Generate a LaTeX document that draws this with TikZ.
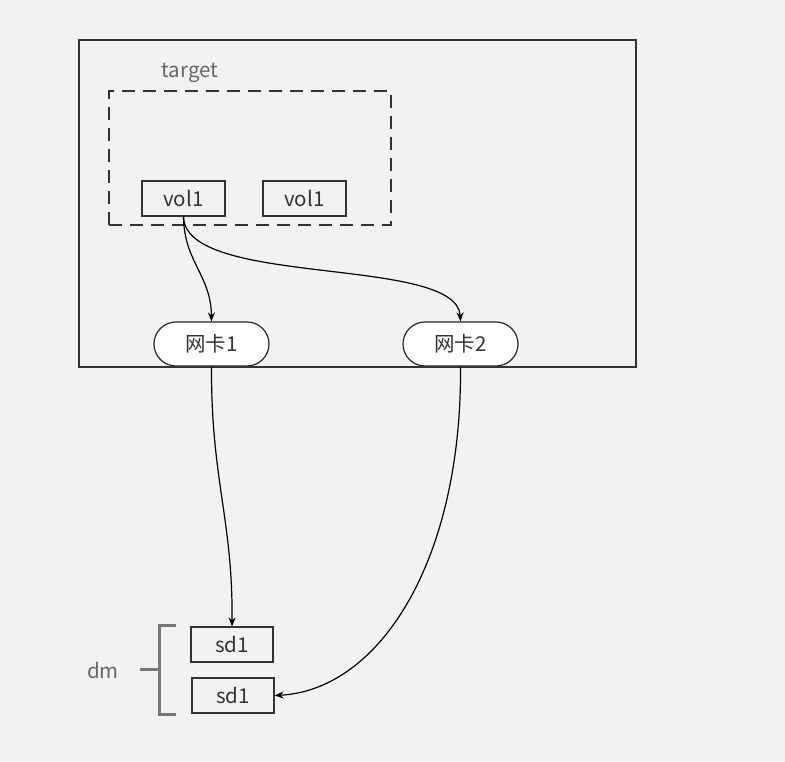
\documentclass[tikz,border=0pt]{standalone}
\usepackage{fontspec}
\setmainfont{Noto Sans CJK SC}
\usetikzlibrary{arrows.meta}
\definecolor{bg}{HTML}{F2F2F4}
\definecolor{ink}{HTML}{333333}
\definecolor{soft}{HTML}{666666}
\definecolor{brk}{HTML}{777777}
\tikzset{
  box/.style={draw=ink, line width=1.2pt, minimum width=83pt, minimum height=35pt, inner sep=0pt, text=ink, font=\fontsize{20.5}{24}\selectfont},
  pill/.style={draw=black!85, fill=white, line width=1.2pt, rounded corners=22pt, minimum width=115pt, minimum height=44pt, inner sep=0pt, text=ink, font=\fontsize{20.5}{24}\selectfont},
  lbl/.style={text=soft, font=\fontsize{20.5}{24}\selectfont, inner sep=0pt},
  conn/.style={draw=black, line width=1.2pt, -{Stealth[length=9pt,width=7pt]}},
}
\begin{document}
\begin{tikzpicture}[x=1pt,y=-1pt]
\fill[bg] (0,0) rectangle (785,761);
\useasboundingbox (0,0) rectangle (785,761);
% outer frame
\node[draw=ink, line width=1.3pt, minimum width=557pt, minimum height=327pt, inner sep=0pt] (frame) at (357.5,203.5) {};
\node[lbl] (tlabel) at (190,73) {target};
\node[draw=ink, line width=1.2pt, dash pattern=on 13pt off 8pt, minimum width=282pt, minimum height=134pt, inner sep=0pt] (target) at (250,158) {};
\node[box] (vola) at (183.5,198.5) {vol1};
\node[box] (volb) at (304.5,198.5) {vol1};
\node[pill] (nic1) at (211.5,344) {网卡1};
\node[pill] (nic2) at (460.5,344) {网卡2};
\node[box, minimum width=82pt] (sda) at (232,644.5) {sd1};
\node[box, minimum width=82pt] (sdb) at (233,695.5) {sd1};
% bracket
\coordinate (bt) at (176,625);
\coordinate (bb) at (176,714);
\coordinate (bm) at (140,669);
\draw[brk, line width=3pt] (bt) -- (159,625) -- (159,714) -- (bb);
\draw[brk, line width=3pt] (bm) -- (159,669);
\node[lbl] (dm) at (103,670) {dm};
% connectors
\draw[conn] (vola.south) .. controls (184,262) and (211,275) .. (nic1.north);
\draw[conn] (vola.south) .. controls (185,288) and (457,255) .. (nic2.north);
\draw[conn] (nic1.south) .. controls (211,480) and (233,520) .. (sda.north);
\draw[conn] (nic2.south) .. controls (462,560) and (380,690) .. (sdb.east);
\end{tikzpicture}
\end{document}
